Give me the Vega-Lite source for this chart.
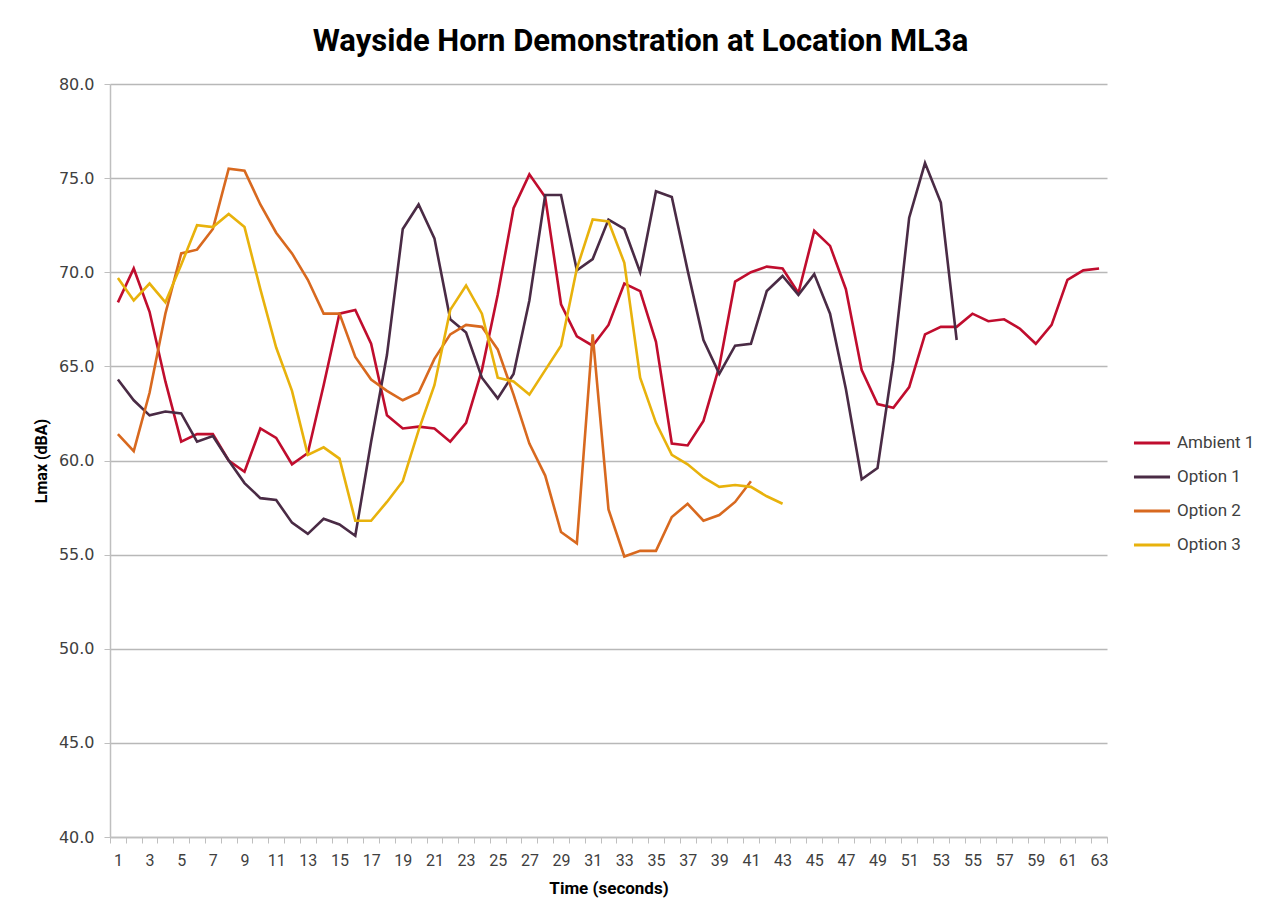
{
  "$schema": "https://vega.github.io/schema/vega-lite/v6.json",
  "width": 997,
  "height": 753,
  "autosize": {"type": "none"},
  "padding": {"left": 110, "top": 84, "right": 164, "bottom": 83},
  "background": "white",
  "title": {
    "text": "Wayside Horn Demonstration at Location ML3a",
    "font": "Roboto",
    "fontSize": 31,
    "fontWeight": "bold",
    "color": "#000000",
    "anchor": "middle",
    "dx": 32,
    "offset": 18
  },
  "config": {
    "view": {"stroke": null},
    "font": "Roboto"
  },
  "data": {
    "values": [
      {"t":1,"s":"Ambient 1","v":68.4},{"t":2,"s":"Ambient 1","v":70.2},{"t":3,"s":"Ambient 1","v":67.9},{"t":4,"s":"Ambient 1","v":64.2},{"t":5,"s":"Ambient 1","v":61.0},{"t":6,"s":"Ambient 1","v":61.4},{"t":7,"s":"Ambient 1","v":61.4},{"t":8,"s":"Ambient 1","v":60.0},{"t":9,"s":"Ambient 1","v":59.4},{"t":10,"s":"Ambient 1","v":61.7},
      {"t":11,"s":"Ambient 1","v":61.2},{"t":12,"s":"Ambient 1","v":59.8},{"t":13,"s":"Ambient 1","v":60.4},{"t":14,"s":"Ambient 1","v":64.0},{"t":15,"s":"Ambient 1","v":67.8},{"t":16,"s":"Ambient 1","v":68.0},{"t":17,"s":"Ambient 1","v":66.2},{"t":18,"s":"Ambient 1","v":62.4},{"t":19,"s":"Ambient 1","v":61.7},{"t":20,"s":"Ambient 1","v":61.8},
      {"t":21,"s":"Ambient 1","v":61.7},{"t":22,"s":"Ambient 1","v":61.0},{"t":23,"s":"Ambient 1","v":62.0},{"t":24,"s":"Ambient 1","v":64.8},{"t":25,"s":"Ambient 1","v":68.8},{"t":26,"s":"Ambient 1","v":73.4},{"t":27,"s":"Ambient 1","v":75.2},{"t":28,"s":"Ambient 1","v":74.0},{"t":29,"s":"Ambient 1","v":68.3},{"t":30,"s":"Ambient 1","v":66.6},
      {"t":31,"s":"Ambient 1","v":66.1},{"t":32,"s":"Ambient 1","v":67.2},{"t":33,"s":"Ambient 1","v":69.4},{"t":34,"s":"Ambient 1","v":69.0},{"t":35,"s":"Ambient 1","v":66.3},{"t":36,"s":"Ambient 1","v":60.9},{"t":37,"s":"Ambient 1","v":60.8},{"t":38,"s":"Ambient 1","v":62.1},{"t":39,"s":"Ambient 1","v":65.0},{"t":40,"s":"Ambient 1","v":69.5},
      {"t":41,"s":"Ambient 1","v":70.0},{"t":42,"s":"Ambient 1","v":70.3},{"t":43,"s":"Ambient 1","v":70.2},{"t":44,"s":"Ambient 1","v":68.9},{"t":45,"s":"Ambient 1","v":72.2},{"t":46,"s":"Ambient 1","v":71.4},{"t":47,"s":"Ambient 1","v":69.1},{"t":48,"s":"Ambient 1","v":64.8},{"t":49,"s":"Ambient 1","v":63.0},{"t":50,"s":"Ambient 1","v":62.8},
      {"t":51,"s":"Ambient 1","v":63.9},{"t":52,"s":"Ambient 1","v":66.7},{"t":53,"s":"Ambient 1","v":67.1},{"t":54,"s":"Ambient 1","v":67.1},{"t":55,"s":"Ambient 1","v":67.8},{"t":56,"s":"Ambient 1","v":67.4},{"t":57,"s":"Ambient 1","v":67.5},{"t":58,"s":"Ambient 1","v":67.0},{"t":59,"s":"Ambient 1","v":66.2},{"t":60,"s":"Ambient 1","v":67.2},
      {"t":61,"s":"Ambient 1","v":69.6},{"t":62,"s":"Ambient 1","v":70.1},{"t":63,"s":"Ambient 1","v":70.2},

      {"t":1,"s":"Option 1","v":64.3},{"t":2,"s":"Option 1","v":63.2},{"t":3,"s":"Option 1","v":62.4},{"t":4,"s":"Option 1","v":62.6},{"t":5,"s":"Option 1","v":62.5},{"t":6,"s":"Option 1","v":61.0},{"t":7,"s":"Option 1","v":61.3},{"t":8,"s":"Option 1","v":60.0},{"t":9,"s":"Option 1","v":58.8},{"t":10,"s":"Option 1","v":58.0},
      {"t":11,"s":"Option 1","v":57.9},{"t":12,"s":"Option 1","v":56.7},{"t":13,"s":"Option 1","v":56.1},{"t":14,"s":"Option 1","v":56.9},{"t":15,"s":"Option 1","v":56.6},{"t":16,"s":"Option 1","v":56.0},{"t":17,"s":"Option 1","v":61.0},{"t":18,"s":"Option 1","v":65.6},{"t":19,"s":"Option 1","v":72.3},{"t":20,"s":"Option 1","v":73.6},
      {"t":21,"s":"Option 1","v":71.8},{"t":22,"s":"Option 1","v":67.5},{"t":23,"s":"Option 1","v":66.8},{"t":24,"s":"Option 1","v":64.4},{"t":25,"s":"Option 1","v":63.3},{"t":26,"s":"Option 1","v":64.6},{"t":27,"s":"Option 1","v":68.5},{"t":28,"s":"Option 1","v":74.1},{"t":29,"s":"Option 1","v":74.1},{"t":30,"s":"Option 1","v":70.1},
      {"t":31,"s":"Option 1","v":70.7},{"t":32,"s":"Option 1","v":72.8},{"t":33,"s":"Option 1","v":72.3},{"t":34,"s":"Option 1","v":70.0},{"t":35,"s":"Option 1","v":74.3},{"t":36,"s":"Option 1","v":74.0},{"t":37,"s":"Option 1","v":70.1},{"t":38,"s":"Option 1","v":66.4},{"t":39,"s":"Option 1","v":64.6},{"t":40,"s":"Option 1","v":66.1},
      {"t":41,"s":"Option 1","v":66.2},{"t":42,"s":"Option 1","v":69.0},{"t":43,"s":"Option 1","v":69.8},{"t":44,"s":"Option 1","v":68.8},{"t":45,"s":"Option 1","v":69.9},{"t":46,"s":"Option 1","v":67.8},{"t":47,"s":"Option 1","v":63.8},{"t":48,"s":"Option 1","v":59.0},{"t":49,"s":"Option 1","v":59.6},{"t":50,"s":"Option 1","v":65.3},
      {"t":51,"s":"Option 1","v":72.9},{"t":52,"s":"Option 1","v":75.8},{"t":53,"s":"Option 1","v":73.7},{"t":54,"s":"Option 1","v":66.4},

      {"t":1,"s":"Option 2","v":61.4},{"t":2,"s":"Option 2","v":60.5},{"t":3,"s":"Option 2","v":63.6},{"t":4,"s":"Option 2","v":67.8},{"t":5,"s":"Option 2","v":71.0},{"t":6,"s":"Option 2","v":71.2},{"t":7,"s":"Option 2","v":72.3},{"t":8,"s":"Option 2","v":75.5},{"t":9,"s":"Option 2","v":75.4},{"t":10,"s":"Option 2","v":73.6},
      {"t":11,"s":"Option 2","v":72.1},{"t":12,"s":"Option 2","v":71.0},{"t":13,"s":"Option 2","v":69.6},{"t":14,"s":"Option 2","v":67.8},{"t":15,"s":"Option 2","v":67.8},{"t":16,"s":"Option 2","v":65.5},{"t":17,"s":"Option 2","v":64.3},{"t":18,"s":"Option 2","v":63.7},{"t":19,"s":"Option 2","v":63.2},{"t":20,"s":"Option 2","v":63.6},
      {"t":21,"s":"Option 2","v":65.4},{"t":22,"s":"Option 2","v":66.7},{"t":23,"s":"Option 2","v":67.2},{"t":24,"s":"Option 2","v":67.1},{"t":25,"s":"Option 2","v":65.9},{"t":26,"s":"Option 2","v":63.5},{"t":27,"s":"Option 2","v":60.9},{"t":28,"s":"Option 2","v":59.2},{"t":29,"s":"Option 2","v":56.2},{"t":30,"s":"Option 2","v":55.6},
      {"t":31,"s":"Option 2","v":66.7},{"t":32,"s":"Option 2","v":57.4},{"t":33,"s":"Option 2","v":54.9},{"t":34,"s":"Option 2","v":55.2},{"t":35,"s":"Option 2","v":55.2},{"t":36,"s":"Option 2","v":57.0},{"t":37,"s":"Option 2","v":57.7},{"t":38,"s":"Option 2","v":56.8},{"t":39,"s":"Option 2","v":57.1},{"t":40,"s":"Option 2","v":57.8},
      {"t":41,"s":"Option 2","v":58.9},

      {"t":1,"s":"Option 3","v":69.7},{"t":2,"s":"Option 3","v":68.5},{"t":3,"s":"Option 3","v":69.4},{"t":4,"s":"Option 3","v":68.4},{"t":5,"s":"Option 3","v":70.4},{"t":6,"s":"Option 3","v":72.5},{"t":7,"s":"Option 3","v":72.4},{"t":8,"s":"Option 3","v":73.1},{"t":9,"s":"Option 3","v":72.4},{"t":10,"s":"Option 3","v":69.1},
      {"t":11,"s":"Option 3","v":66.0},{"t":12,"s":"Option 3","v":63.7},{"t":13,"s":"Option 3","v":60.3},{"t":14,"s":"Option 3","v":60.7},{"t":15,"s":"Option 3","v":60.1},{"t":16,"s":"Option 3","v":56.8},{"t":17,"s":"Option 3","v":56.8},{"t":18,"s":"Option 3","v":57.8},{"t":19,"s":"Option 3","v":58.9},{"t":20,"s":"Option 3","v":61.6},
      {"t":21,"s":"Option 3","v":64.0},{"t":22,"s":"Option 3","v":68.0},{"t":23,"s":"Option 3","v":69.3},{"t":24,"s":"Option 3","v":67.8},{"t":25,"s":"Option 3","v":64.4},{"t":26,"s":"Option 3","v":64.2},{"t":27,"s":"Option 3","v":63.5},{"t":28,"s":"Option 3","v":64.8},{"t":29,"s":"Option 3","v":66.1},{"t":30,"s":"Option 3","v":70.2},
      {"t":31,"s":"Option 3","v":72.8},{"t":32,"s":"Option 3","v":72.7},{"t":33,"s":"Option 3","v":70.5},{"t":34,"s":"Option 3","v":64.4},{"t":35,"s":"Option 3","v":62.0},{"t":36,"s":"Option 3","v":60.3},{"t":37,"s":"Option 3","v":59.8},{"t":38,"s":"Option 3","v":59.1},{"t":39,"s":"Option 3","v":58.6},{"t":40,"s":"Option 3","v":58.7},
      {"t":41,"s":"Option 3","v":58.6},{"t":42,"s":"Option 3","v":58.1},{"t":43,"s":"Option 3","v":57.7}
    ]
  },
  "mark": {"type": "line", "strokeWidth": 2.6, "strokeJoin": "miter"},
  "encoding": {
    "x": {
      "field": "t",
      "type": "ordinal",
      "bandPosition": 0.5,
      "scale": {"type": "band", "paddingInner": 0, "paddingOuter": 0},
      "axis": {
        "title": "Time (seconds)",
        "titleFont": "Roboto",
        "titleFontSize": 17,
        "titleFontWeight": "bold",
        "titleColor": "#000000",
        "titlePadding": 12,
        "labelAngle": 0,
        "labelFont": "Roboto",
        "labelFontSize": 16,
        "labelColor": "#404040",
        "labelPadding": 9,
        "labelOverlap": false,
        "labelExpr": "datum.value % 2 == 1 ? datum.label : ''",
        "tickBand": "extent",
        "tickSize": 6,
        "tickColor": "#bfbfbf",
        "domainColor": "#bfbfbf",
        "domainWidth": 1.5,
        "grid": false
      }
    },
    "y": {
      "field": "v",
      "type": "quantitative",
      "scale": {"domain": [40, 80], "nice": false, "zero": false},
      "axis": {
        "title": "Lmax (dBA)",
        "titleFont": "Roboto",
        "titleFontSize": 16,
        "titleFontWeight": "bold",
        "titleColor": "#000000",
        "titlePadding": 9,
        "values": [40, 45, 50, 55, 60, 65, 70, 75, 80],
        "format": ".1f",
        "labelFont": "DejaVu Sans",
        "labelFontSize": 16,
        "labelColor": "#404040",
        "labelPadding": 10,
        "tickSize": 6,
        "tickColor": "#bfbfbf",
        "domainColor": "#bfbfbf",
        "domainWidth": 1.5,
        "gridColor": "#b8b8b8",
        "gridWidth": 1.3
      }
    },
    "color": {
      "field": "s",
      "type": "nominal",
      "scale": {
        "domain": ["Ambient 1", "Option 1", "Option 2", "Option 3"],
        "range": ["#c00d2e", "#4a2b45", "#d8691f", "#e8b20c"]
      },
      "legend": {
        "title": null,
        "orient": "none",
        "legendX": 1022,
        "legendY": 339,
        "symbolType": "stroke",
        "symbolSize": 1300,
        "symbolStrokeWidth": 3,
        "labelFont": "Roboto",
        "labelFontSize": 17,
        "labelColor": "#404040",
        "labelOffset": 5,
        "rowPadding": 6
      }
    }
  }
}
